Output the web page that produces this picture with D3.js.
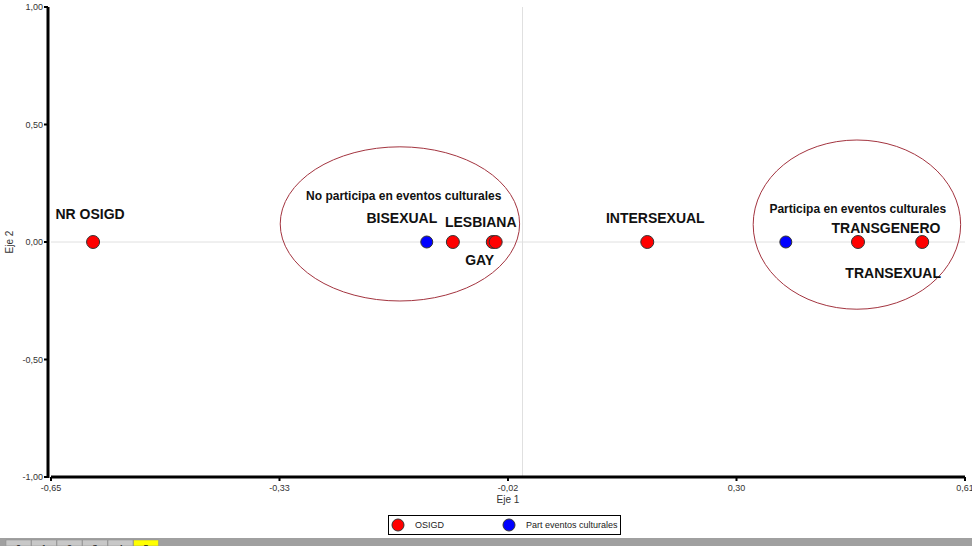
<!DOCTYPE html>
<html>
<head>
<meta charset="utf-8">
<script src="https://cdn.jsdelivr.net/npm/d3@7"></script>
<style>
  body { margin: 0; background: #fff; }
  svg { display: block; font-family: Arial, "Liberation Sans", sans-serif; }
  .tick-label { font-size: 9px; fill: #333; }
  .axis-title { font-size: 10px; fill: #333; }
  .pt-label { font-size: 14px; font-weight: bold; fill: #111; }
  .grp-label { font-size: 12px; font-weight: bold; fill: #111; }
  .legend-text { font-size: 9px; fill: #222; }
</style>
</head>
<body>
<svg id="chart"></svg>
<script>
// categories (OSIGD) and their coordinates on Eje 1 / Eje 2
var osigdNames = ['NR OSIGD', 'BISEXUAL', 'LESBIANA', 'GAY', 'INTERSEXUAL', 'TRANSGENERO', 'TRANSEXUAL'];
var osigdX = [-0.592, -0.096, -0.041, -0.037, 0.172, 0.4625, 0.551];
var osigdY = [0, 0, 0, 0, 0, 0, 0];

// participacion en eventos culturales
var partNames = ['No participa en eventos culturales', 'Participa en eventos culturales'];
var partX = [-0.132, 0.363];
var partY = [0, 0];

// groups drawn as ellipses (center + radii in axis units)
var grpCx = [-0.169, 0.461];
var grpCy = [0.077, 0.074];
var grpRx = [0.165, 0.143];
var grpRy = [0.328, 0.36];

var xTicks = [-0.65, -0.335, -0.02, 0.295, 0.61];
var xTickLabels = ['-0,65', '-0,33', '-0,02', '0,30', '0,61'];
var yTicks = [1, 0.5, 0, -0.5, -1];
var yTickLabels = ['1,00', '0,50', '0,00', '-0,50', '-1,00'];

var seriesNames = ['OSIGD', 'Part eventos culturales'];
var seriesColors = ['#ff0000', '#0000ff'];

var sheetTabs = ['0', '1', '2', '3', '4', '5'];

const width = 972, height = 546;
const svg = d3.select('#chart').attr('width', width).attr('height', height);

const x = d3.scaleLinear().domain([-0.65, 0.61]).range([51, 965]);
const y = d3.scaleLinear().domain([-1, 1]).range([477, 7]);

// label offsets (px) relative to each point
const osigdLabelOff = [[-3, -23], [-51, -19], [-12, -15], [-16, 23], [8, -19], [28, -9], [-29, 36]];
const partLabelOff = [[-23, -42], [72, -29]];

// grid lines through the origin
svg.append('line')
    .attr('x1', x(-0.65)).attr('x2', x(0.61))
    .attr('y1', y(0)).attr('y2', y(0))
    .attr('stroke', '#e0e0e0').attr('stroke-width', 1);
svg.append('line')
    .attr('x1', x(0)).attr('x2', x(0))
    .attr('y1', y(1)).attr('y2', y(-1))
    .attr('stroke', '#e0e0e0').attr('stroke-width', 1);

// axes
const yAxisX = 48;
svg.append('line')
    .attr('x1', yAxisX).attr('x2', yAxisX)
    .attr('y1', y(1)).attr('y2', y(-1) + 1)
    .attr('stroke', '#000').attr('stroke-width', 3);
svg.append('line')
    .attr('x1', x(-0.65)).attr('x2', x(0.61))
    .attr('y1', y(-1)).attr('y2', y(-1))
    .attr('stroke', '#000').attr('stroke-width', 3);

const yt = svg.append('g').selectAll('g')
    .data(yTicks)
    .enter().append('g');
yt.append('line')
    .attr('x1', yAxisX - 4).attr('x2', yAxisX)
    .attr('y1', d => y(d)).attr('y2', d => y(d))
    .attr('stroke', '#000').attr('stroke-width', 2);
yt.append('text')
    .attr('class', 'tick-label')
    .attr('x', yAxisX - 5)
    .attr('y', d => y(d) + 3)
    .attr('text-anchor', 'end')
    .text((d, i) => yTickLabels[i]);

const xt = svg.append('g').selectAll('g')
    .data(xTicks)
    .enter().append('g');
xt.append('line')
    .attr('x1', d => x(d)).attr('x2', d => x(d))
    .attr('y1', y(-1)).attr('y2', y(-1) + 4)
    .attr('stroke', '#000').attr('stroke-width', 2);
xt.append('text')
    .attr('class', 'tick-label')
    .attr('x', d => x(d))
    .attr('y', y(-1) + 14)
    .attr('text-anchor', 'middle')
    .text((d, i) => xTickLabels[i]);

svg.append('text')
    .attr('class', 'axis-title')
    .attr('x', x(-0.02))
    .attr('y', y(-1) + 26)
    .attr('text-anchor', 'middle')
    .text('Eje 1');
svg.append('text')
    .attr('class', 'axis-title')
    .attr('transform', 'translate(13,' + y(0) + ') rotate(-90)')
    .attr('text-anchor', 'middle')
    .text('Eje 2');

// ellipses
svg.append('g').selectAll('ellipse')
    .data(grpCx)
    .enter().append('ellipse')
    .attr('cx', d => x(d))
    .attr('cy', (d, i) => y(grpCy[i]))
    .attr('rx', (d, i) => x(d + grpRx[i]) - x(d))
    .attr('ry', (d, i) => y(0) - y(grpRy[i]))
    .attr('fill', 'none')
    .attr('stroke', '#a3343f')
    .attr('stroke-width', 1);

// points
svg.append('g').selectAll('circle')
    .data(osigdX)
    .enter().append('circle')
    .attr('cx', d => x(d))
    .attr('cy', (d, i) => y(osigdY[i]))
    .attr('r', 6.5)
    .attr('fill', seriesColors[0])
    .attr('stroke', '#333').attr('stroke-width', 1);
svg.append('g').selectAll('circle')
    .data(partX)
    .enter().append('circle')
    .attr('cx', d => x(d))
    .attr('cy', (d, i) => y(partY[i]))
    .attr('r', 6)
    .attr('fill', seriesColors[1])
    .attr('stroke', '#333').attr('stroke-width', 1);

// labels
svg.append('g').selectAll('text')
    .data(osigdNames)
    .enter().append('text')
    .attr('class', 'pt-label')
    .attr('x', (d, i) => x(osigdX[i]) + osigdLabelOff[i][0])
    .attr('y', (d, i) => y(osigdY[i]) + osigdLabelOff[i][1])
    .attr('text-anchor', 'middle')
    .text(d => d);
svg.append('g').selectAll('text')
    .data(partNames)
    .enter().append('text')
    .attr('class', 'grp-label')
    .attr('x', (d, i) => x(partX[i]) + partLabelOff[i][0])
    .attr('y', (d, i) => y(partY[i]) + partLabelOff[i][1])
    .attr('text-anchor', 'middle')
    .text(d => d);

// legend
const legend = svg.append('g').attr('class', 'legend');
legend.append('rect')
    .attr('x', 388.5).attr('y', 515.5)
    .attr('width', 232).attr('height', 19)
    .attr('fill', '#fff').attr('stroke', '#000').attr('stroke-width', 1);
const lx = [398, 509];
seriesNames.forEach((name, i) => {
    legend.append('circle')
        .attr('cx', lx[i]).attr('cy', 525)
        .attr('r', 6)
        .attr('fill', seriesColors[i])
        .attr('stroke', '#333').attr('stroke-width', 1);
    legend.append('text')
        .attr('class', 'legend-text')
        .attr('x', lx[i] + 17).attr('y', 528)
        .text(name);
});

// sheet tab strip at the bottom
svg.append('rect')
    .attr('x', 0).attr('y', 538)
    .attr('width', width).attr('height', 8)
    .attr('fill', '#a0a0a0');
const tabs = svg.append('g').selectAll('g')
    .data(sheetTabs)
    .enter().append('g');
tabs.append('rect')
    .attr('x', (d, i) => 6 + i * 25.5)
    .attr('y', 540)
    .attr('width', 25)
    .attr('height', 6)
    .attr('fill', (d, i) => i === sheetTabs.length - 1 ? '#ffff00' : '#c8c8c8')
    .attr('stroke', '#8a8a8a').attr('stroke-width', 0.5);
tabs.append('text')
    .attr('x', (d, i) => 6 + i * 25.5 + 12.5)
    .attr('y', 551)
    .attr('text-anchor', 'middle')
    .attr('font-size', '9px')
    .attr('fill', '#222')
    .text(d => d);
</script>
</body>
</html>
